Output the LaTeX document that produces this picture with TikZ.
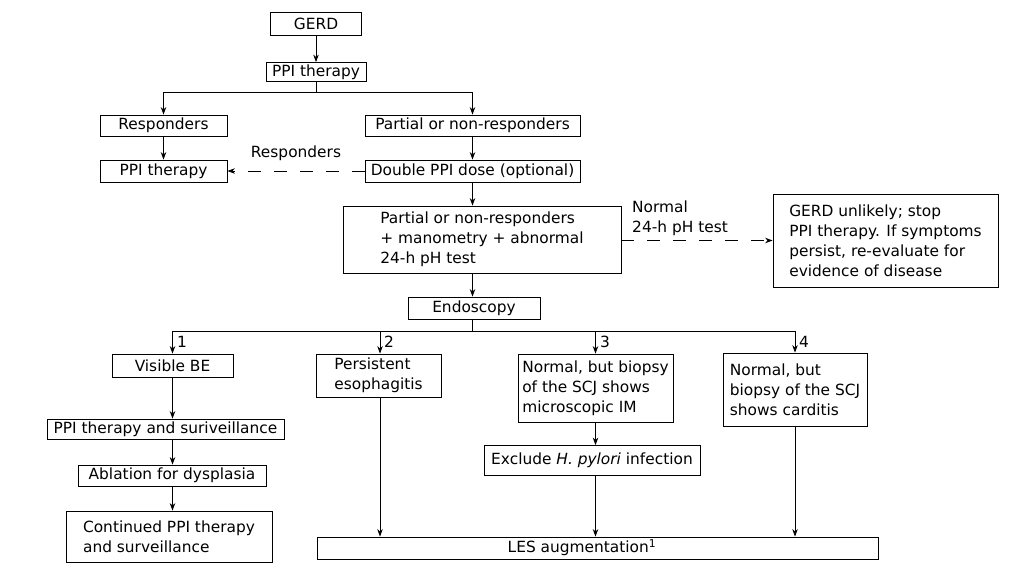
\documentclass[tikz,border=0pt]{standalone}
\usepackage{fontspec}
\setmainfont{DejaVu Sans}
\usetikzlibrary{arrows.meta}

\begin{document}
\begin{tikzpicture}[x=1pt, y=-1pt,
		font=\fontsize{15.4}{20}\selectfont,
		box/.style={draw, line width=0.8pt, inner sep=0pt, align=left},
		arr/.style={line width=0.8pt, -{Stealth[length=7.5pt, width=5.5pt]}},
		dasharr/.style={arr, dash pattern=on 13pt off 13pt},
		num/.style={anchor=west, inner sep=0pt}]
		\useasboundingbox (0,0) rectangle (1036,581);

		\node[box, minimum width=91pt, minimum height=23pt] (gerd) at (316,23.5) {GERD};
		\node[box, minimum width=100pt, minimum height=19pt] (ppi) at (316,72) {PPI therapy};
		\node[box, minimum width=127pt, minimum height=21pt] (resp) at (163.5,125.5) {Responders};
		\node[box, minimum width=215pt, minimum height=21pt] (partial) at (472.5,125.5) {Partial or non-responders};
		\node[box, minimum width=127pt, minimum height=22pt] (ppitwo) at (163.5,171) {PPI therapy};
		\node[box, minimum width=215pt, minimum height=22pt] (double) at (472.5,171) {Double PPI dose (optional)};
		\node[box, minimum width=278pt, minimum height=67pt] (manom) at (482,239.5) {Partial or non-responders\\+ manometry + abnormal\\24-h pH test};
		\node[box, minimum width=225pt, minimum height=93pt] (unlikely) at (885.5,240.5) {GERD unlikely; stop\\PPI therapy. If symptoms\\persist, re-evaluate for\\evidence of disease};
		\node[box, minimum width=132pt, minimum height=22pt] (endo) at (474,308) {Endoscopy};

		\node[box, minimum width=121pt, minimum height=23pt] (visbe) at (172.5,365.5) {Visible BE};
		\node[box, minimum width=125pt, minimum height=43pt] (pers) at (378.5,375.5) {Persistent\\esophagitis};
		\node[box, minimum width=155pt, minimum height=68pt] (normim) at (595.5,388) {Normal, but biopsy\\of the SCJ shows\\microscopic IM};
		\node[box, minimum width=144pt, minimum height=73pt] (normcard) at (795,389.5) {Normal, but\\biopsy of the SCJ\\shows carditis};
		\node[box, minimum width=237pt, minimum height=20pt] (ppisurv) at (165.5,429) {PPI therapy and suriveillance};
		\node[box, minimum width=188pt, minimum height=21pt] (ablation) at (172,475.5) {Ablation for dysplasia};
		\node[box, minimum width=206pt, minimum height=51pt] (cont) at (169,536.5) {Continued PPI therapy\\and surveillance};
		\node[box, minimum width=216pt, minimum height=30pt] (hpylori) at (592,460.5) {Exclude \textit{H. pylori} infection};
		\node[box, minimum width=561pt, minimum height=22pt] (les) at (597.5,548) {};
		\node (lestext) at (582,548) {LES augmentation\textsuperscript{1}};

		% upper part
		\draw[arr] (gerd) -- (ppi);
		\coordinate (splitl) at (163.5,92);
		\coordinate (splitr) at (472.5,92);
		\draw[line width=0.8pt] (ppi.south) -- (316,92);
		\draw[arr] (splitl) -- (resp);
		\draw[arr] (splitr) -- (partial);
		\draw[line width=0.8pt] (splitl) -- (splitr);
		\draw[arr] (resp) -- (ppitwo);
		\draw[arr] (partial) -- (double);
		\draw[dasharr] (double.west) -- node[above=7pt] {Responders} (ppitwo.east);
		\draw[arr] (double.south) -- (double.south |- manom.north);
		\draw[dasharr] (manom.east |- unlikely.west) -- (unlikely.west);
		\node[anchor=south west, align=left, inner sep=0pt] (normlab) at (632,236) {Normal\\24-h pH test};
		\draw[arr] (double.south |- manom.south) -- (double.south |- endo.north);

		% endoscopy branches
		\coordinate (bone) at (172.5,331);
		\coordinate (btwo) at (380,331);
		\coordinate (bthree) at (595.5,331);
		\coordinate (bfour) at (795,331);
		\draw[line width=0.8pt] (double.south |- endo.south) -- (double.south |- bone);
		\draw[line width=0.8pt] (bone) -- (bfour);
		\draw[arr] (bone) -- (visbe);
		\draw[arr] (btwo) -- (btwo |- pers.north);
		\draw[arr] (bthree) -- (normim);
		\draw[arr] (bfour) -- (normcard);
		\node[num] (lone) at (177,342) {1};
		\node[num] (ltwo) at (384,342) {2};
		\node[num] (lthree) at (600,342) {3};
		\node[num] (lfour) at (799,342) {4};

		\draw[arr] (visbe) -- (visbe |- ppisurv.north);
		\draw[arr] (visbe |- ppisurv.south) -- (visbe |- ablation.north);
		\draw[arr] (visbe |- ablation.south) -- (visbe |- cont.north);
		\draw[arr] (btwo |- pers.south) -- (btwo |- les.north);
		\draw[arr] (normim) -- (bthree |- hpylori.north);
		\draw[arr] (bthree |- hpylori.south) -- (bthree |- les.north);
		\draw[arr] (normcard) -- (bfour |- les.north);
	\end{tikzpicture}
\end{document}
